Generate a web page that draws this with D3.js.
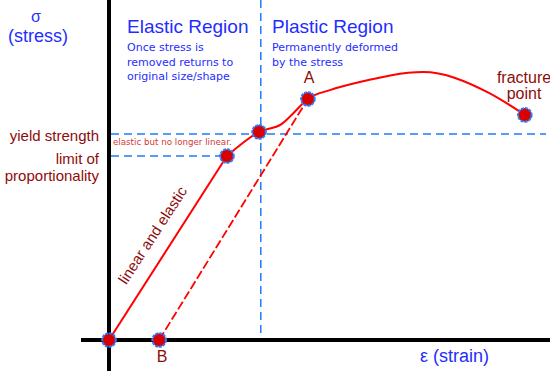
<!DOCTYPE html>
<html>
<head>
<meta charset="utf-8">
<script src="https://cdn.jsdelivr.net/npm/d3@7"></script>
<style>
  body { margin: 0; background: #fff; }
  svg { display: block; }
</style>
</head>
<body>
<div id="app"></div>
<script>
// stress-strain curve, values in arbitrary units (strain 0..10, stress 0..10)
const linearStrain = [0, 2.68];
const linearStress = [0, 5.41];
const plasticStrain = [2.68, 3.41, 3.92, 4.15, 4.52, 5.02, 5.70, 7.14, 8.59, 9.45];
const plasticStress = [5.41, 6.12, 6.35, 6.62, 7.09, 7.35, 7.59, 7.88, 7.30, 6.62];
// unloading line B -> A
const unloadStrain = [1.14, 4.52];
const unloadStress = [0, 7.09];
// marked points: origin, limit, yield, A, fracture, B
const markStrain = [0, 2.68, 3.41, 4.52, 9.45, 1.14];
const markStress = [0, 5.41, 6.12, 7.09, 6.62, 0];
const yieldStress = 6.06;
const limitStress = 5.41;
const regionSplit = 3.45;

const width = 550, height = 371;
const x = d3.scaleLinear().domain([0, 10]).range([109, 549]);
const y = d3.scaleLinear().domain([0, 10]).range([340, 0]);

const svg = d3.select('#app').append('svg').attr('width', width).attr('height', height);

const blue = '#1f2dff';
const dashBlue = '#1e7bff';
const darkRed = '#8e0b0b';

// blue dashed guide lines
const guides = svg.append('g').attr('stroke', dashBlue).attr('stroke-width', 1.5)
  .attr('stroke-dasharray', '8,5').attr('fill', 'none');
guides.append('line')
  .attr('x1', x(regionSplit)).attr('x2', x(regionSplit))
  .attr('y1', y(10)).attr('y2', y(0));
guides.append('line')
  .attr('x1', x(0) + 2).attr('x2', 546)
  .attr('y1', y(yieldStress)).attr('y2', y(yieldStress));
guides.append('line')
  .attr('x1', x(0) + 2).attr('x2', x(2.68))
  .attr('y1', y(limitStress)).attr('y2', y(limitStress));

// axes
svg.append('line').attr('stroke', '#000').attr('stroke-width', 4)
  .attr('x1', x(0)).attr('x2', x(0)).attr('y1', 0).attr('y2', height);
svg.append('line').attr('stroke', '#000').attr('stroke-width', 4)
  .attr('x1', 81).attr('x2', width).attr('y1', y(0)).attr('y2', y(0));

// curve
const line = d3.line().x(d => x(d[0])).y(d => y(d[1]));
svg.append('path')
  .attr('d', line(d3.zip(linearStrain, linearStress)))
  .attr('stroke', '#f00').attr('stroke-width', 2).attr('fill', 'none');
svg.append('path')
  .attr('d', line.curve(d3.curveMonotoneX)(d3.zip(plasticStrain, plasticStress)))
  .attr('stroke', '#f00').attr('stroke-width', 2).attr('fill', 'none');
svg.append('path')
  .attr('d', d3.line().x(d => x(d[0])).y(d => y(d[1]))(d3.zip(unloadStrain, unloadStress)))
  .attr('stroke', '#f00').attr('stroke-width', 1.8).attr('stroke-dasharray', '9,3')
  .attr('fill', 'none');

// points
svg.append('g').selectAll('circle')
  .data(d3.zip(markStrain, markStress))
  .enter()
  .append('circle')
  .attr('cx', d => x(d[0]))
  .attr('cy', d => y(d[1]))
  .attr('r', 6.8)
  .attr('fill', '#d80000')
  .attr('stroke', '#2b7cff')
  .attr('stroke-width', 2)
  .attr('stroke-dasharray', '3,1');

// texts
const txt = (t, tx, ty, size, color, anchor, family) => svg.append('text')
  .attr('x', tx).attr('y', ty)
  .attr('font-size', size + 'px')
  .attr('font-family', family || 'Liberation Sans, Arial, sans-serif')
  .attr('fill', color)
  .attr('text-anchor', anchor || 'start')
  .text(t);

txt('σ', 36, 21.5, 16, blue, 'middle');
txt('(stress)', 38, 42, 18, blue, 'middle');
txt('Elastic Region', 127, 33, 19, blue);
txt('Plastic Region', 272, 33, 19, blue);
const note = 'DejaVu Sans, sans-serif';
txt('Once stress is', 127, 51, 11, blue, 'start', note);
txt('removed returns to', 127, 65.5, 11, blue, 'start', note);
txt('original size/shape', 127, 80, 11, blue, 'start', note);
txt('Permanently deformed', 272, 51, 11, blue, 'start', note);
txt('by the stress', 272, 65.5, 11, blue, 'start', note);

txt('A', 309, 83, 16, darkRed, 'middle');
txt('B', 162, 362, 16, darkRed, 'middle');
txt('fracture', 524, 83, 16, darkRed, 'middle');
txt('point', 524, 99, 16, darkRed, 'middle');
txt('yield strength', 99, 141, 15, darkRed, 'end');
txt('limit of', 99, 164, 15, darkRed, 'end');
txt('proportionality', 99, 181, 15, darkRed, 'end');
txt('elastic but no longer linear.', 113, 145, 8.7, '#d23a3a', 'start', note);
txt('ε (strain)', 420, 362, 18, blue);

svg.append('text')
  .attr('transform', 'translate(157,238) rotate(-57)')
  .attr('font-size', '15px')
  .attr('font-family', 'Liberation Sans, Arial, sans-serif')
  .attr('fill', darkRed)
  .attr('text-anchor', 'middle')
  .text('linear and elastic');
</script>
</body>
</html>
